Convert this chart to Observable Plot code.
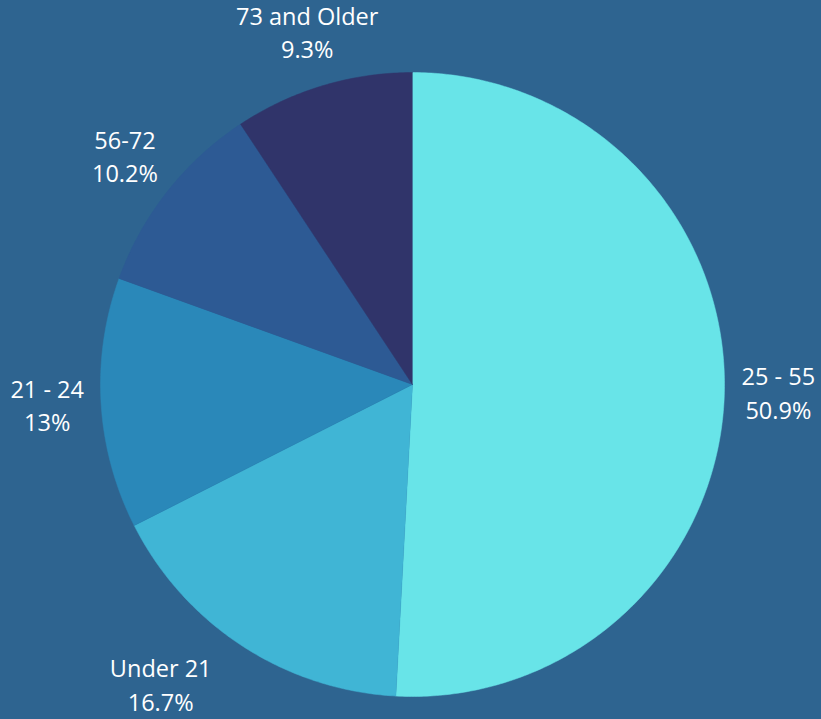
<!DOCTYPE html>
<html>
<head>
<meta charset="utf-8">
<script src="https://cdn.jsdelivr.net/npm/d3@7"></script>
<script src="https://cdn.jsdelivr.net/npm/@observablehq/plot@0.6"></script>
<style>
  html, body { margin: 0; padding: 0; background: #2e6490; }
  #chart svg { display: block; }
</style>
</head>
<body>
<div id="chart"></div>
<script>
const categories = ["25 - 55", "Under 21", "21 - 24", "56-72", "73 and Older"];
const shares = [50.9, 16.7, 13, 10.2, 9.3];
const colors = ["#68e4e8", "#40b5d5", "#2a88b9", "#2d5a94", "#30346a"];

const W = 821, H = 719;
const CX = 412, CY = 384, R = 312, LR = 366;

const total = d3.sum(shares);
let acc = 0;
const slices = categories.map((c, i) => {
  const a0 = acc / total * 2 * Math.PI;
  acc += shares[i];
  const a1 = acc / total * 2 * Math.PI;
  return {cat: c, value: shares[i], a0, a1, mid: (a0 + a1) / 2};
});

const polyPts = [];
for (const s of slices) {
  polyPts.push({cat: s.cat, x: 0, y: 0});
  const n = Math.max(2, Math.ceil((s.a1 - s.a0) / 0.01));
  for (let k = 0; k <= n; k++) {
    const a = s.a0 + (s.a1 - s.a0) * k / n;
    polyPts.push({cat: s.cat, x: R * Math.sin(a), y: R * Math.cos(a)});
  }
}

const labels = slices.map(s => ({
  cat: s.cat,
  text: `${s.cat}\n${s.value}%`,
  x: LR * Math.sin(s.mid),
  y: LR * Math.cos(s.mid)
}));

const textOpts = {x: "x", y: "y", text: "text", fill: "white", fontSize: 23.5, lineHeight: 1.42, textAnchor: "middle"};

const chart = Plot.plot({
  width: W,
  height: H,
  margin: 0,
  style: {background: "#2e6490", fontFamily: "'Open Sans', 'Noto Sans', sans-serif"},
  x: {domain: [-CX, W - CX], range: [0, W], axis: null},
  y: {domain: [-(H - CY), CY], range: [H, 0], axis: null},
  color: {domain: categories, range: colors},
  marks: [
    Plot.line(polyPts, {x: "x", y: "y", z: "cat", fill: "cat", stroke: "cat", strokeWidth: 0.5, curve: "linear"}),
    Plot.text(labels.filter(d => d.cat !== "Under 21"), {...textOpts, dy: -3}),
    Plot.text(labels.filter(d => d.cat === "Under 21"), {...textOpts, dx: -52, dy: -8})
  ]
});
document.getElementById("chart").appendChild(chart);
</script>
</body>
</html>
